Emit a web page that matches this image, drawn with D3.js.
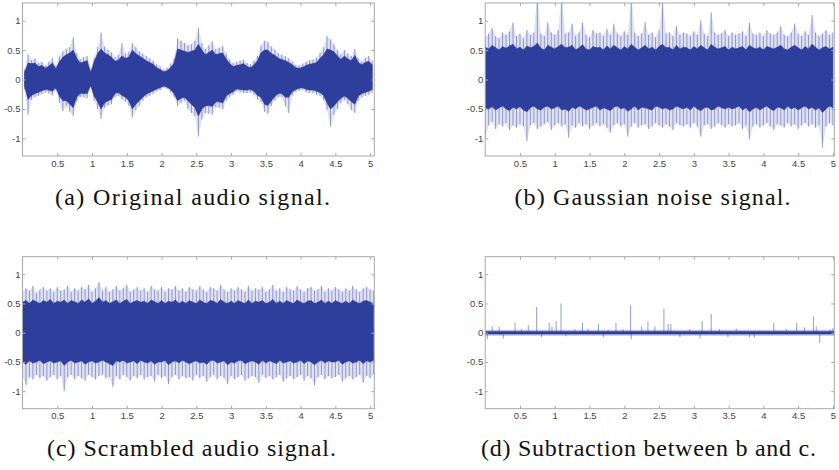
<!DOCTYPE html>
<html><head><meta charset="utf-8">
<script src="https://cdn.jsdelivr.net/npm/d3@7/dist/d3.min.js"></script>
<style>body{margin:0;background:#fff}svg{display:block}</style></head>
<body><svg id="chart" width="839" height="470"></svg>
<script>
// ---------- data ----------
const xTicks=[0.5,1,1.5,2,2.5,3,3.5,4,4.5,5];
const yTicks=[-1,-0.5,0,0.5,1];
const yTickLabels=["-1","-0.5","0","0.5","1"];
const captions=["(a) Original audio signal.","(b) Gaussian noise signal.","(c) Scrambled audio signal.","(d) Subtraction between b and c."];
const samplePeriod=0.05;          // seconds between envelope readings
const durationAC=5.06, durationBD=5.02;

// (a) original audio: envelope readings every 0.05 s starting at 0.03 s
const aStart=0.03;
const aPeakHi=[0.17,0.43,0.33,0.36,0.28,0.30,0.24,0.30,0.36,0.24,
0.40,0.48,0.52,0.55,0.72,0.45,0.35,0.38,0.40,0.16,
0.37,0.55,0.80,0.56,0.50,0.46,0.38,0.42,0.62,0.44,
0.47,0.62,0.55,0.48,0.44,0.40,0.36,0.32,0.26,0.22,
0.17,0.20,0.26,0.36,0.70,0.66,0.62,0.58,0.60,0.66,
0.88,0.62,0.52,0.58,0.65,0.52,0.54,0.57,0.44,0.34,
0.28,0.30,0.32,0.34,0.28,0.26,0.32,0.40,0.58,0.66,
0.64,0.56,0.51,0.45,0.42,0.40,0.36,0.31,0.25,0.24,
0.27,0.30,0.33,0.34,0.37,0.46,0.55,0.74,0.68,0.60,
0.50,0.43,0.50,0.44,0.40,0.52,0.36,0.31,0.37,0.40,
0.32];
const aCoreHi=[0.12,0.28,0.27,0.28,0.22,0.24,0.19,0.23,0.28,0.18,
0.30,0.38,0.42,0.45,0.50,0.36,0.28,0.30,0.32,0.12,
0.30,0.44,0.52,0.45,0.42,0.38,0.31,0.33,0.40,0.36,
0.38,0.50,0.44,0.40,0.36,0.32,0.29,0.26,0.20,0.17,
0.13,0.15,0.20,0.28,0.52,0.50,0.48,0.46,0.48,0.50,
0.60,0.50,0.42,0.46,0.50,0.42,0.44,0.45,0.35,0.27,
0.22,0.24,0.25,0.27,0.22,0.20,0.25,0.32,0.45,0.50,
0.50,0.44,0.41,0.36,0.34,0.32,0.29,0.25,0.20,0.19,
0.21,0.24,0.26,0.27,0.29,0.36,0.42,0.52,0.50,0.47,
0.40,0.34,0.40,0.35,0.32,0.41,0.29,0.25,0.29,0.31,
0.25];
const aPeakLo=[-0.17,-0.60,-0.35,-0.30,-0.28,-0.25,-0.22,-0.24,-0.27,-0.18,
-0.40,-0.54,-0.45,-0.55,-0.62,-0.38,-0.30,-0.30,-0.32,-0.13,
-0.36,-0.50,-0.67,-0.48,-0.44,-0.42,-0.30,-0.28,-0.34,-0.38,
-0.45,-0.65,-0.52,-0.45,-0.36,-0.30,-0.28,-0.24,-0.20,-0.18,
-0.14,-0.16,-0.22,-0.30,-0.45,-0.40,-0.36,-0.50,-0.57,-0.62,
-0.97,-0.68,-0.57,-0.58,-0.60,-0.47,-0.48,-0.51,-0.36,-0.30,
-0.26,-0.20,-0.22,-0.23,-0.23,-0.22,-0.26,-0.34,-0.38,-0.55,
-0.58,-0.45,-0.36,-0.30,-0.30,-0.45,-0.57,-0.27,-0.21,-0.19,
-0.18,-0.22,-0.23,-0.23,-0.26,-0.28,-0.35,-0.52,-0.80,-0.60,
-0.50,-0.40,-0.35,-0.42,-0.52,-0.57,-0.36,-0.30,-0.28,-0.26,
-0.22];
const aCoreLo=[-0.12,-0.34,-0.27,-0.24,-0.22,-0.19,-0.17,-0.18,-0.20,-0.14,
-0.28,-0.36,-0.36,-0.42,-0.48,-0.30,-0.24,-0.24,-0.24,-0.10,
-0.28,-0.38,-0.50,-0.40,-0.36,-0.34,-0.24,-0.22,-0.27,-0.30,
-0.36,-0.50,-0.42,-0.36,-0.30,-0.25,-0.22,-0.19,-0.16,-0.14,
-0.11,-0.13,-0.17,-0.24,-0.36,-0.32,-0.30,-0.36,-0.42,-0.48,
-0.62,-0.50,-0.45,-0.44,-0.46,-0.38,-0.38,-0.40,-0.28,-0.24,
-0.21,-0.16,-0.17,-0.18,-0.18,-0.17,-0.20,-0.27,-0.30,-0.42,
-0.44,-0.36,-0.29,-0.24,-0.24,-0.30,-0.30,-0.21,-0.17,-0.15,
-0.14,-0.17,-0.18,-0.18,-0.20,-0.22,-0.27,-0.40,-0.50,-0.45,
-0.38,-0.32,-0.28,-0.32,-0.38,-0.42,-0.28,-0.24,-0.22,-0.20,
-0.17];

// (b) Gaussian noise: envelope readings every 0.05 s from 0 s
const bStart=0;
const bPeakHi=[0.72,0.78,0.88,0.74,0.70,0.80,0.76,0.82,0.97,0.74,
0.78,0.70,0.84,0.76,0.80,1.45,0.78,0.74,0.97,0.80,
0.76,0.84,1.45,0.78,0.80,0.95,0.74,0.80,0.97,0.76,
0.72,0.84,0.78,0.80,0.74,0.86,0.76,0.95,0.78,0.74,
0.82,0.76,1.45,0.80,0.74,0.78,0.97,0.76,0.80,0.72,
0.84,1.35,0.78,0.80,0.74,0.91,0.76,0.80,0.78,0.74,
0.82,0.76,1.01,0.78,0.74,1.14,0.80,0.76,0.78,0.84,
0.74,0.80,0.76,0.78,0.82,0.74,0.97,0.78,0.76,0.80,
0.74,0.84,0.78,0.76,0.80,0.91,0.76,0.74,0.80,0.95,
0.78,0.74,0.82,0.76,1.10,0.80,0.74,0.78,0.84,0.76,
0.80];
const bCoreHi=[0.55,0.52,0.58,0.54,0.50,0.56,0.53,0.57,0.60,0.52,
0.55,0.50,0.57,0.54,0.56,0.62,0.53,0.50,0.58,0.55,
0.52,0.56,0.60,0.54,0.55,0.58,0.50,0.54,0.59,0.52,
0.50,0.56,0.54,0.55,0.50,0.57,0.52,0.58,0.54,0.50,
0.56,0.52,0.60,0.55,0.50,0.54,0.58,0.52,0.55,0.50,
0.56,0.60,0.54,0.55,0.50,0.58,0.52,0.55,0.54,0.50,
0.56,0.52,0.58,0.54,0.50,0.60,0.55,0.52,0.54,0.56,
0.50,0.55,0.52,0.54,0.56,0.50,0.58,0.54,0.52,0.55,
0.50,0.56,0.54,0.52,0.55,0.58,0.52,0.50,0.55,0.58,
0.54,0.50,0.56,0.52,0.60,0.55,0.50,0.54,0.56,0.52,
0.55];
const bPeakLo=[-0.99,-0.78,-0.72,-0.84,-0.76,-0.80,-0.74,-0.86,-0.78,-0.82,
-0.76,-0.80,-1.05,-0.78,-0.74,-0.84,-0.80,-0.76,-0.72,-0.86,
-0.78,-0.74,-0.80,-0.76,-0.99,-0.78,-0.82,-0.74,-0.80,-0.76,
-0.84,-0.78,-0.74,-0.80,-0.76,-0.82,-0.90,-0.78,-0.74,-0.80,
-0.76,-0.97,-0.80,-0.74,-0.82,-0.78,-0.76,-0.84,-0.80,-0.74,
-0.78,-0.82,-0.76,-0.80,-0.86,-0.74,-0.78,-0.80,-0.76,-0.82,
-0.74,-0.80,-0.97,-0.78,-0.76,-0.84,-0.80,-0.74,-0.78,-0.82,
-0.76,-0.80,-0.78,-0.74,-0.84,-0.78,-1.02,-0.80,-0.76,-0.82,
-0.78,-0.74,-0.80,-0.86,-0.76,-0.78,-0.82,-0.74,-0.80,-0.76,
-0.84,-0.78,-0.74,-0.80,-0.76,-0.82,-0.78,-1.16,-0.80,-0.74,
-0.78];
const bCoreLo=[-0.48,-0.50,-0.46,-0.52,-0.48,-0.45,-0.50,-0.53,-0.47,-0.50,
-0.46,-0.52,-0.55,-0.48,-0.45,-0.50,-0.52,-0.47,-0.45,-0.50,
-0.48,-0.45,-0.52,-0.50,-0.54,-0.47,-0.50,-0.45,-0.48,-0.52,
-0.50,-0.47,-0.45,-0.52,-0.48,-0.50,-0.53,-0.47,-0.45,-0.50,
-0.48,-0.54,-0.50,-0.45,-0.52,-0.47,-0.48,-0.50,-0.52,-0.45,
-0.47,-0.50,-0.48,-0.52,-0.50,-0.45,-0.48,-0.50,-0.47,-0.52,
-0.45,-0.50,-0.53,-0.48,-0.47,-0.52,-0.50,-0.45,-0.48,-0.50,
-0.47,-0.50,-0.48,-0.45,-0.52,-0.48,-0.55,-0.50,-0.47,-0.52,
-0.48,-0.45,-0.50,-0.53,-0.47,-0.48,-0.52,-0.45,-0.50,-0.47,
-0.52,-0.48,-0.45,-0.50,-0.47,-0.52,-0.48,-0.56,-0.50,-0.45,
-0.48];

// (c) scrambled audio: envelope readings every 0.05 s from 0 s
const cStart=0;
const cPeakHi=[0.70,0.76,0.72,0.80,0.68,0.74,0.78,0.72,0.76,0.70,
0.78,0.72,0.74,0.80,0.70,0.76,0.72,0.78,0.74,0.82,
0.70,0.76,0.87,0.72,0.78,0.70,0.74,0.80,0.72,0.76,
0.82,0.70,0.74,0.78,0.72,0.76,0.70,0.80,0.74,0.72,
0.78,0.70,0.76,0.74,0.80,0.72,0.76,0.70,0.78,0.74,
0.72,0.80,0.74,0.70,0.78,0.76,0.72,0.82,0.74,0.70,
0.76,0.72,0.78,0.74,0.70,0.80,0.72,0.76,0.74,0.78,
0.70,0.74,0.82,0.72,0.76,0.70,0.78,0.74,0.72,0.80,
0.74,0.70,0.76,0.78,0.72,0.74,0.80,0.70,0.76,0.72,
0.78,0.74,0.70,0.76,0.72,0.80,0.74,0.70,0.76,0.78,
0.74,0.72];
const cCoreHi=[0.52,0.55,0.50,0.56,0.53,0.50,0.55,0.52,0.57,0.50,
0.54,0.52,0.56,0.50,0.55,0.53,0.50,0.56,0.52,0.58,
0.50,0.54,0.60,0.52,0.55,0.50,0.53,0.56,0.50,0.54,
0.57,0.50,0.53,0.55,0.52,0.54,0.50,0.56,0.53,0.50,
0.55,0.50,0.54,0.52,0.56,0.50,0.54,0.50,0.55,0.52,
0.50,0.56,0.52,0.50,0.55,0.54,0.50,0.57,0.52,0.50,
0.54,0.50,0.55,0.52,0.50,0.56,0.50,0.54,0.52,0.55,
0.50,0.52,0.57,0.50,0.54,0.50,0.55,0.52,0.50,0.56,
0.52,0.50,0.54,0.55,0.50,0.52,0.56,0.50,0.54,0.50,
0.55,0.52,0.50,0.54,0.50,0.56,0.52,0.50,0.54,0.55,
0.52,0.50];
const cPeakLo=[-0.74,-0.90,-0.76,-0.80,-0.72,-0.78,-0.74,-0.82,-0.76,-0.72,
-0.80,-0.74,-1.00,-0.76,-0.72,-0.80,-0.74,-0.78,-0.82,-0.72,
-0.76,-0.80,-0.74,-0.72,-0.78,-0.76,-0.93,-0.74,-0.80,-0.72,
-0.76,-0.82,-0.74,-0.78,-0.72,-0.80,-0.76,-0.74,-0.84,-0.72,
-0.78,-0.74,-0.88,-0.76,-0.72,-0.80,-0.74,-0.78,-0.76,-0.82,
-0.72,-0.78,-0.74,-0.84,-0.76,-0.72,-0.80,-0.74,-0.78,-0.88,
-0.74,-0.80,-0.76,-0.72,-0.82,-0.78,-0.74,-0.76,-0.86,-0.72,
-0.78,-0.74,-0.80,-0.76,-0.72,-0.84,-0.78,-0.74,-0.80,-0.76,
-0.72,-0.82,-0.74,-0.78,-0.90,-0.76,-0.72,-0.80,-0.74,-0.78,
-0.76,-0.72,-0.84,-0.78,-0.74,-0.80,-0.76,-0.72,-0.86,-0.74,
-0.78,-0.72];
const cCoreLo=[-0.50,-0.54,-0.48,-0.52,-0.50,-0.47,-0.53,-0.50,-0.48,-0.52,
-0.50,-0.48,-0.56,-0.50,-0.47,-0.52,-0.50,-0.48,-0.54,-0.50,
-0.48,-0.52,-0.50,-0.47,-0.50,-0.53,-0.56,-0.48,-0.50,-0.47,
-0.52,-0.50,-0.48,-0.53,-0.47,-0.50,-0.52,-0.48,-0.54,-0.50,
-0.50,-0.47,-0.55,-0.50,-0.48,-0.52,-0.47,-0.50,-0.53,-0.50,
-0.48,-0.52,-0.50,-0.54,-0.48,-0.47,-0.52,-0.50,-0.48,-0.55,
-0.50,-0.52,-0.48,-0.47,-0.53,-0.50,-0.48,-0.50,-0.54,-0.47,
-0.52,-0.48,-0.50,-0.53,-0.47,-0.52,-0.50,-0.48,-0.52,-0.50,
-0.47,-0.53,-0.48,-0.50,-0.55,-0.50,-0.47,-0.52,-0.48,-0.50,
-0.50,-0.47,-0.54,-0.50,-0.48,-0.52,-0.50,-0.47,-0.53,-0.48,
-0.50,-0.47];

// (d) difference b - c: near-zero trace plus isolated spikes (time s, value)
const dSpikeTime=[0.03,0.10,0.20,0.26,0.43,0.52,0.62,0.74,0.81,0.92,0.96,1.02,1.09,1.16,1.29,1.40,1.48,1.63,1.70,1.77,1.88,1.98,2.09,2.10,2.25,2.34,2.44,2.57,2.63,2.67,2.80,2.94,3.09,3.12,3.25,3.37,3.49,3.61,3.80,3.87,4.15,4.33,4.48,4.59,4.72,4.76,4.81,4.96,5.00];
const dSpikeValue=[-0.11,0.11,0.10,-0.10,0.17,0.06,0.13,0.44,-0.08,0.17,0.11,0.20,0.50,-0.06,0.06,0.17,0.07,0.15,-0.08,0.05,0.17,0.06,0.47,-0.11,0.11,0.19,0.11,0.41,0.15,0.15,-0.08,0.06,-0.10,0.20,0.32,0.06,-0.08,0.07,-0.08,-0.09,0.17,0.06,0.17,0.09,0.28,0.11,-0.18,0.06,0.08];

// ---------- layout ----------
const DARK="#2e3e9c", LIGHT="#3d4ca8";
const svg=d3.select("#chart");
const panels=[
  {start:aStart,coreHi:aCoreHi,coreLo:aCoreLo,peakHi:aPeakHi,peakLo:aPeakLo,dur:durationAC,box:[22.5,374.3,3,156],cap:[192.5,205,275]},
  {start:bStart,coreHi:bCoreHi,coreLo:bCoreLo,peakHi:bPeakHi,peakLo:bPeakLo,dur:durationBD,box:[485.2,834.3,3,156],cap:[652.5,205,276]},
  {start:cStart,coreHi:cCoreHi,coreLo:cCoreLo,peakHi:cPeakHi,peakLo:cPeakLo,dur:durationAC,box:[22.5,374.3,256.7,408.7],cap:[191.5,456,289]},
  {spikes:true,dur:durationBD,box:[485.2,834.3,256.7,408.7],cap:[648.5,456,335]}
];

panels.forEach((p,i)=>{
  const [x0,x1,y0,y1]=p.box;
  const x=d3.scaleLinear().domain([0,p.dur]).range([x0,x1]);
  const y=d3.scaleLinear().domain([-1.3,1.3]).range([y1,y0]);
  const g=svg.append("g");
  const cid="clip"+i;
  svg.append("clipPath").attr("id",cid).append("rect").attr("x",x0).attr("y",y0).attr("width",x1-x0).attr("height",y1-y0);
  const plot=g.append("g").attr("clip-path",`url(#${cid})`);

  if(!p.spikes){
    const tOf=j=>p.start+j*samplePeriod;
    const m=Math.min(p.peakHi.length,p.peakLo.length);
    const pidx=d3.range(m);
    // faint haze between peak readings
    const fringe=d3.area().x(j=>x(tOf(j))).y0(j=>y(p.peakLo[j])).y1(j=>y(p.peakHi[j]));
    plot.append("path").datum(pidx).attr("d",fringe).attr("fill",LIGHT).attr("fill-opacity",0.16);
    // light peaks
    plot.append("g").selectAll("line.h").data(p.peakHi).join("line")
      .attr("x1",(d,j)=>x(tOf(j))).attr("x2",(d,j)=>x(tOf(j)))
      .attr("y1",y(0)).attr("y2",d=>y(d))
      .attr("stroke",LIGHT).attr("stroke-opacity",0.5).attr("stroke-width",1);
    plot.append("g").selectAll("line.l").data(p.peakLo).join("line")
      .attr("x1",(d,j)=>x(tOf(j))).attr("x2",(d,j)=>x(tOf(j)))
      .attr("y1",y(0)).attr("y2",d=>y(d))
      .attr("stroke",LIGHT).attr("stroke-opacity",0.5).attr("stroke-width",1);
    const n=Math.min(p.coreHi.length,p.coreLo.length);
    const idx=d3.range(n);
    const area=d3.area().x(j=>x(tOf(j))).y0(j=>y(p.coreLo[j])).y1(j=>y(p.coreHi[j]));
    plot.append("path").datum(idx).attr("d",area).attr("fill",DARK).attr("stroke",DARK).attr("stroke-width",0.6);
  } else {
    plot.append("g").selectAll("line").data(dSpikeTime).join("line")
      .attr("x1",d=>x(d)).attr("x2",d=>x(d))
      .attr("y1",y(0)).attr("y2",(d,j)=>y(dSpikeValue[j]))
      .attr("stroke",LIGHT).attr("stroke-opacity",0.55).attr("stroke-width",1);
    plot.append("line").attr("x1",x(0)).attr("x2",x(p.dur)).attr("y1",y(0)).attr("y2",y(0))
      .attr("stroke",LIGHT).attr("stroke-opacity",0.35).attr("stroke-width",6);
    plot.append("line").attr("x1",x(0)).attr("x2",x(p.dur)).attr("y1",y(0)).attr("y2",y(0))
      .attr("stroke",DARK).attr("stroke-width",3);
  }

  // axes
  const axCol="#a8a8a8", txtCol="#444";
  const style=sel=>{sel.select(".domain").remove();sel.selectAll(".tick line").attr("stroke",axCol);
    sel.selectAll("text").attr("fill",txtCol).style("font-family","'Liberation Sans',Arial,sans-serif").style("font-size","9.5px");};
  g.append("g").attr("transform",`translate(0,${y1})`)
    .call(d3.axisBottom(x).tickValues(xTicks).tickSizeInner(-3).tickSizeOuter(0).tickPadding(4).tickFormat(d=>String(d))).call(style);
  g.append("g").attr("transform",`translate(0,${y0})`)
    .call(d3.axisTop(x).tickValues(xTicks).tickSizeInner(-3).tickSizeOuter(0).tickFormat("")).call(style);
  g.append("g").attr("transform",`translate(${x0},0)`)
    .call(d3.axisLeft(y).tickValues(yTicks).tickSizeInner(-3).tickSizeOuter(0).tickPadding(2).tickFormat((d,k)=>yTickLabels[k])).call(style);
  g.append("g").attr("transform",`translate(${x1},0)`)
    .call(d3.axisRight(y).tickValues(yTicks).tickSizeInner(-3).tickSizeOuter(0).tickFormat("")).call(style);
  g.append("rect").attr("x",x0).attr("y",y0).attr("width",x1-x0).attr("height",y1-y0)
    .attr("fill","none").attr("stroke",axCol).attr("stroke-width",1);

  // caption
  svg.append("text").attr("x",p.cap[0]).attr("y",p.cap[1]).attr("text-anchor","middle")
    .attr("textLength",p.cap[2]).attr("lengthAdjust","spacing")
    .style("font-family","'Liberation Serif','Times New Roman',serif").style("font-size","24px").attr("fill","#111")
    .text(captions[i]);
});
</script></body></html>
